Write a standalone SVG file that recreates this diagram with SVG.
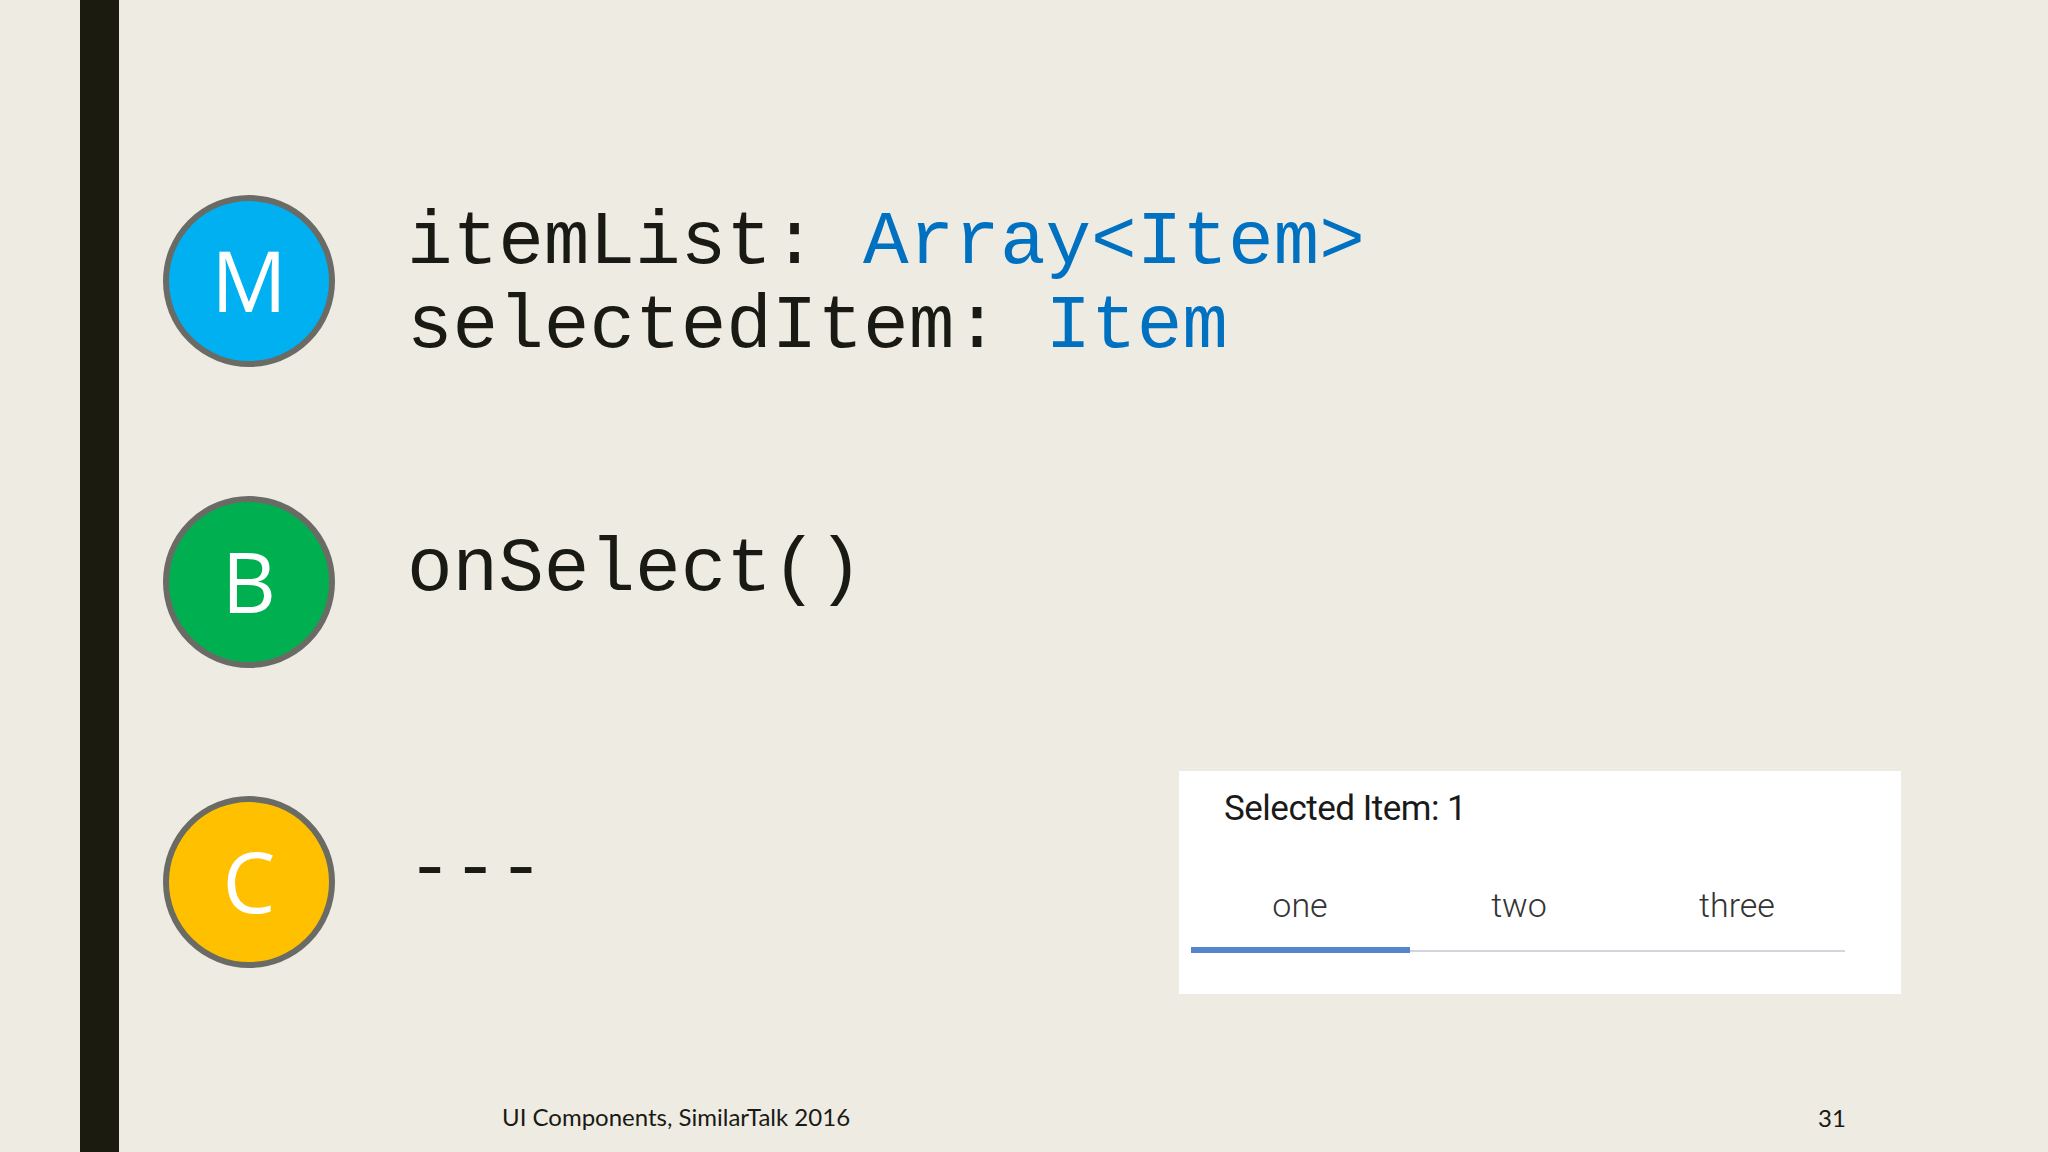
<svg xmlns="http://www.w3.org/2000/svg" width="2048" height="1152" viewBox="0 0 2048 1152">
<style>
.badge{stroke:#6b6b66;stroke-width:6}
.letter{font-family:"Open Sans","Noto Sans",sans-serif;font-size:84px;fill:#ffffff;text-anchor:middle}
.code{font-family:"Liberation Mono","DejaVu Sans Mono",monospace;font-size:76px;fill:#1a1a14}
.type{fill:#0070c0}
.tab{font-family:Roboto,"Liberation Sans",sans-serif;font-size:34px;font-weight:300;fill:#333333;text-anchor:middle}
.foot{font-family:Lato,"Open Sans",sans-serif;font-size:24px;fill:#1a1a14}
</style>
<rect width="2048" height="1152" fill="#eeebe3"/>
<rect x="80" y="0" width="39" height="1152" fill="#1c1b10"/>

<g id="node-M">
<circle class="badge" cx="249" cy="281" r="83" fill="#00b0f0"/>
<text class="letter" x="249" y="312">M</text>
</g>
<g id="text-model">
<text class="code" x="407" y="263">itemList: <tspan class="type">Array&lt;Item&gt;</tspan></text>
<text class="code" x="407" y="347">selectedItem: <tspan class="type">Item</tspan></text>
</g>

<g id="node-B">
<circle class="badge" cx="249" cy="582" r="83" fill="#00b050"/>
<text class="letter" x="249" y="613">B</text>
</g>
<g id="text-behavior">
<text class="code" x="407" y="590">onSelect()</text>
</g>

<g id="node-C">
<circle class="badge" cx="249" cy="882" r="83" fill="#ffc000"/>
<text class="letter" x="249" y="913">C</text>
</g>
<g id="text-component">
<text class="code" x="407" y="890">---</text>
</g>

<g id="demo-panel">
<rect x="1179" y="771" width="722" height="223" fill="#ffffff"/>
<text x="1224" y="820" font-family="Roboto,'Liberation Sans',sans-serif" font-size="35" fill="#1a1a1a" letter-spacing="-0.5">Selected Item: 1</text>
<text class="tab" x="1300" y="917">one</text>
<text class="tab" x="1519" y="917">two</text>
<text class="tab" x="1737" y="917">three</text>
<rect x="1410" y="950" width="435" height="2" fill="#d4d4dc"/>
<rect x="1191" y="947" width="219" height="6" fill="#5585cc"/>
</g>

<g id="connectors"></g>

<g id="footer">
<text class="foot" x="502" y="1126">UI Components, SimilarTalk 2016</text>
<text class="foot" x="1832" y="1127" font-size="22" text-anchor="middle">31</text>
</g>
</svg>
